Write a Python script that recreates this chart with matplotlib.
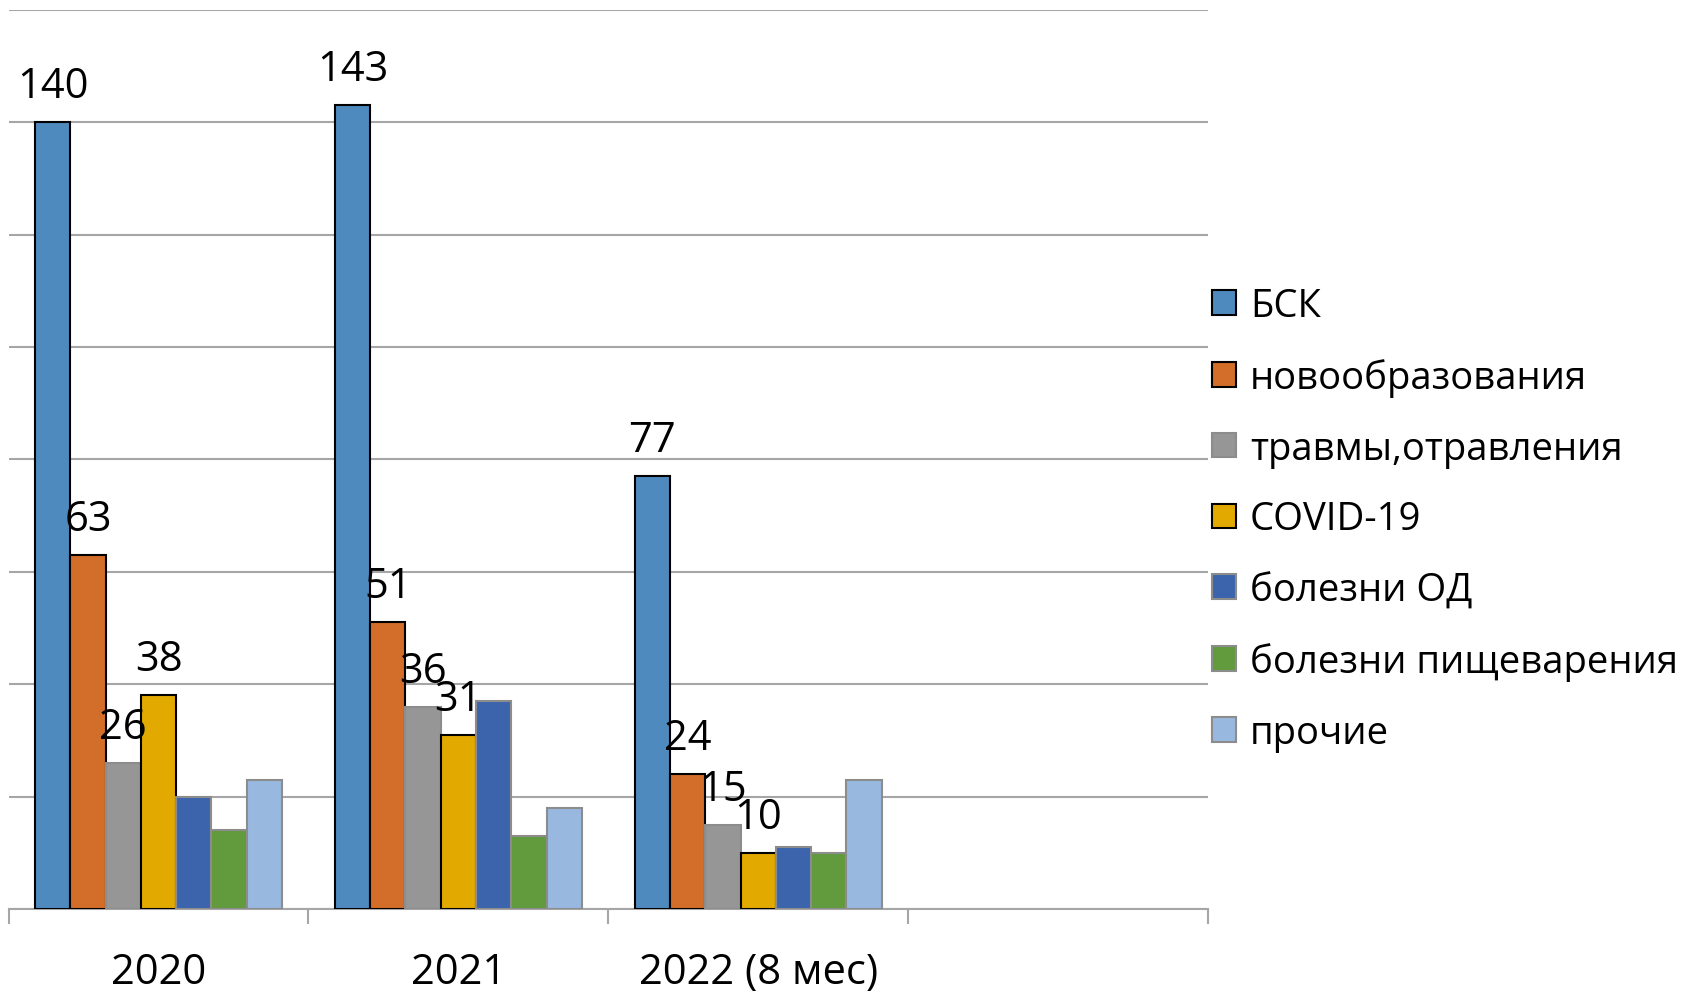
import numpy as np
import matplotlib.pyplot as plt
from matplotlib.patches import Patch

plt.rcParams['font.family'] = ['Open Sans', 'DejaVu Sans']

categories = ['2020', '2021', '2022 (8 мес)', '']
series = ['БСК', 'новообразования', 'травмы,отравления', 'COVID-19',
          'болезни ОД', 'болезни пищеварения', 'прочие']
values = {
    'БСК':                 [140, 143, 77],
    'новообразования':     [63, 51, 24],
    'травмы,отравления':   [26, 36, 15],
    'COVID-19':            [38, 31, 10],
    'болезни ОД':          [20, 37, 11],
    'болезни пищеварения': [14, 13, 10],
    'прочие':              [23, 18, 23],
}
labelled = ['БСК', 'новообразования', 'травмы,отравления', 'COVID-19']

colors = ['#4F8ABE', '#D36E2A', '#969696', '#E2AA00', '#3C64AD', '#629A3E', '#98B8E0']
edges = ['black', 'black', '#8c8c8c', 'black', '#8c8c8c', '#8c8c8c', '#8c8c8c']

fig = plt.figure(figsize=(16.91, 9.95), dpi=100)
ax = fig.add_axes([0.0051, 0.0854, 0.7093, 0.9036])

w = 0.1177
x = np.arange(3)
for i, s in enumerate(series):
    xs = x + (i - 3) * w
    ax.bar(xs, values[s], width=w, color=colors[i], edgecolor=edges[i],
           linewidth=1.5, zorder=3)
    if s in labelled:
        for xi, v in zip(xs, values[s]):
            ax.annotate(str(v), (xi, v), xytext=(0, 18), textcoords='offset points',
                        ha='center', va='baseline', fontsize=30, zorder=5)

ax.set_xlim(-0.5, 3.5)
ax.set_ylim(0, 160)
ax.set_yticks(np.arange(0, 161, 20))
ax.yaxis.grid(True, color='#a6a6a6', linewidth=1.5, zorder=0)
ax.tick_params(axis='y', length=0, labelleft=False)

# ticks at category borders, labels at centers
ax.set_xticks(np.arange(-0.5, 3.6, 1))
ax.set_xticklabels([])
ax.set_xticks(np.arange(4), minor=True)
ax.set_xticklabels(categories, minor=True, fontsize=30)
ax.tick_params(axis='x', which='major', direction='out', length=11,
               width=1.5, color='#a6a6a6')
ax.tick_params(axis='x', which='minor', length=0, pad=30)

for sp in ['top', 'right', 'left']:
    ax.spines[sp].set_visible(False)
ax.spines['bottom'].set_color('#a6a6a6')
ax.spines['bottom'].set_linewidth(1.5)

handles = [Patch(facecolor=colors[i], edgecolor=edges[i], linewidth=1.5)
           for i in range(len(series))]
fig.legend(handles, series, loc='center left', bbox_to_anchor=(0.717, 0.477),
           frameon=False, fontsize=27.5, handlelength=0.62, handleheight=0.62,
           handletextpad=0.36, labelspacing=0.86, borderaxespad=0, borderpad=0)

fig.savefig('out.png', dpi=100)
